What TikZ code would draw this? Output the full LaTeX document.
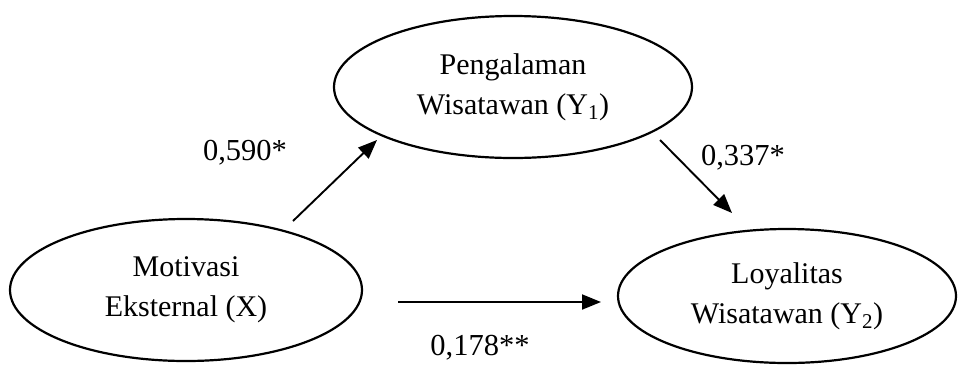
\documentclass[tikz,border=0pt]{standalone}
\usepackage{fontspec}
\setmainfont{Liberation Serif}
\usetikzlibrary{arrows.meta,shapes.geometric}
\begin{document}
\begin{tikzpicture}[x=1pt,y=-1pt,
  ell/.style={draw=black, line width=2.2pt, ellipse, inner sep=0pt, align=center,
    font=\fontsize{30}{40}\selectfont},
  lbl/.style={inner sep=0pt, font=\fontsize{30.5}{36}\selectfont},
  arr/.style={line width=1.9pt, -{Triangle[length=19pt,width=15pt]}}]
\useasboundingbox (0,0) rectangle (958,365);
\node[ell, minimum width=352pt, minimum height=142pt] (X) at (186,290) {Motivasi\\Eksternal (X)};
\node[ell, minimum width=358pt, minimum height=142pt] (Y1) at (513,87) {Pengalaman\\Wisatawan (Y\textsubscript{1})};
\node[ell, minimum width=338pt, minimum height=134pt] (Y2) at (787,296) {Loyalitas\\Wisatawan (Y\textsubscript{2})};
\coordinate (a1s) at (293,221);
\coordinate (a1e) at (377,140);
\coordinate (a2s) at (660,140);
\coordinate (a2e) at (732,213);
\coordinate (a3s) at (398,302);
\coordinate (a3e) at (601,302);
\draw[arr] (a1s) -- (a1e);
\draw[arr] (a2s) -- (a2e);
\draw[arr] (a3s) -- (a3e);
\node[lbl] (l1) at (245,153) {0,590*};
\node[lbl] (l2) at (743,158) {0,337*};
\node[lbl] (l3) at (480,348) {0,178**};
\end{tikzpicture}
\end{document}
